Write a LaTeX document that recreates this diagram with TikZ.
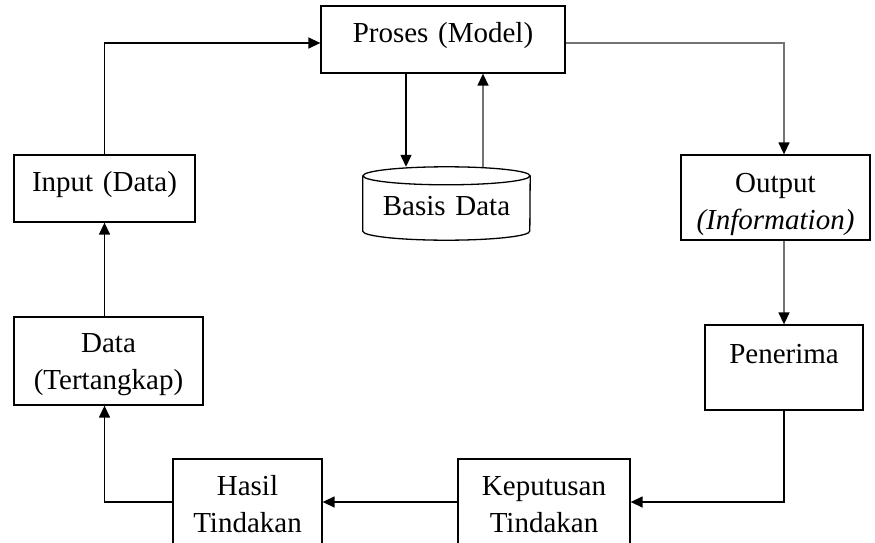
\documentclass[tikz,border=0pt]{standalone}
\usepackage{fontspec}
\setmainfont{Liberation Serif}
\usetikzlibrary{arrows.meta}

\begin{document}
\begin{tikzpicture}[x=1pt,y=-1pt]

    \tikzset{
      box/.style={
        draw,
        line width=1.3pt,
        inner sep=0pt,
        align=center,
        font=\fontsize{29}{37}\selectfont,
      },
      dbnode/.style={
        inner sep=0pt,
        align=center,
        font=\fontsize{29}{37}\selectfont,
      },
      arr/.style={
        line width=1.4pt,
        -{Triangle[length=12pt,width=11pt,color=black]},
      },
      greyarr/.style={
        arr,
        draw=black!55,
      },
    }
    \useasboundingbox (0,0) rectangle (875,543);
    \clip (0,0) rectangle (875,543);
	\node[box,text width=244pt,text height=37pt,text depth=30pt] (proses) at (443,39.5) {Proses (Model)};
	\node[box,text width=181pt,text height=36pt,text depth=31pt] (input) at (104.5,188.5) {Input (Data)};
	\node[box,text width=189pt,text height=35pt,text depth=53pt] (data) at (108.5,361) {Data\\(Tertangkap)};
	\node[box,text width=149pt,text height=36pt,text depth=50pt] (hasil) at (247.5,502) {Hasil\\Tindakan};
	\node[box,text width=172pt,text height=36pt,text depth=50pt] (keputusan) at (544,502) {Keputusan\\Tindakan};
	\node[box,text width=189pt,text height=37pt,text depth=48pt] (output) at (775.5,197.5) {Output\\\textit{(Information)}};
	\node[box,text width=158pt,text height=38pt,text depth=47pt] (penerima) at (784,367.5) {Penerima};
	\node[dbnode,text width=167pt,text height=48pt,text depth=25pt] (basis) at (446.5,203.5) {Basis Data};
	\draw[line width=1.3pt] ([yshift=-9pt]basis.north) ellipse [x radius=83.5pt,y radius=9pt];
	\draw[line width=1.3pt] ([yshift=-9pt]basis.north west) -- ([yshift=9pt]basis.south west) arc[start angle=180,end angle=360,x radius=83.5pt,y radius=9pt] -- ([yshift=-9pt]basis.north east);
	\draw[arr] (input.north) |- ([yshift=-3.5pt]proses.west);
	\draw[greyarr] ([yshift=-3.5pt]proses.east) -| (output.north -| penerima);
	\draw[greyarr] (output.south -| penerima) -- (penerima.north);
	\draw[arr] (penerima.south) |- (keputusan.east);
	\draw[arr] (keputusan.west) -- (hasil.east);
	\draw[arr] (hasil.west) -| (data.south -| input);
	\draw[arr] (data.north -| input) -- (input.south);
	\draw[arr] ([xshift=-37pt]proses.south) -- ([xshift=-37pt]proses.south |- basis.north);
	\draw[greyarr] ([xshift=40pt]proses.south |- basis.north) -- ([xshift=40pt]proses.south);

\end{tikzpicture}
\end{document}
